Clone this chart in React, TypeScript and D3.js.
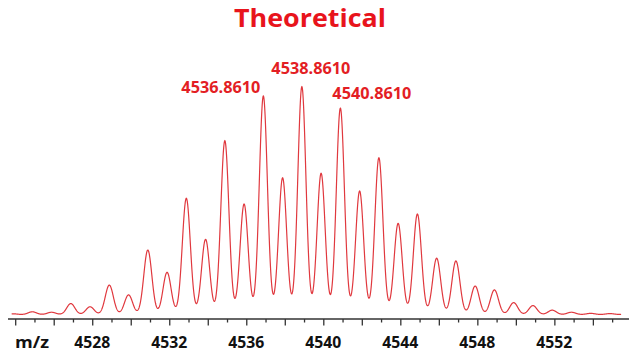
import React from "react";
import * as d3 from "d3";

// Isotope peak centres (m/z) and their relative intensities (%)
const peakMz = [
  4523.861, 4524.861, 4525.861, 4526.861, 4527.861, 4528.861, 4529.861, 4530.861,
  4531.861, 4532.861, 4533.861, 4534.861, 4535.861, 4536.861, 4537.861, 4538.861,
  4539.861, 4540.861, 4541.861, 4542.861, 4543.861, 4544.861, 4545.861, 4546.861,
  4547.861, 4548.861, 4549.861, 4550.861, 4551.861, 4552.861, 4553.861, 4554.861,
];
const peakIntensity = [
  0.3, 1.2, 1.0, 4.8, 3.4, 12.9, 8.6, 28.3,
  18.5, 51.0, 33.0, 76.3, 48.5, 95.9, 60.0, 100,
  62.0, 90.6, 54.2, 68.8, 40.0, 44.1, 24.7, 23.5,
  12.5, 10.8, 5.2, 3.9, 1.9, 1.0, 0.5, 0.4,
];

// Annotated peaks
const labelMz = [4536.861, 4538.861, 4540.861];
const labelText = ["4536.8610", "4538.8610", "4540.8610"];

// Axis ticks
const tickValues = d3.range(4524, 4556, 1);
const tickLabels = [4528, 4532, 4536, 4540, 4544, 4548, 4552];

const W = 629;
const H = 356;
const peakSigma = 0.21; // simulated peak width (m/z units)

export default function App() {
  const x = d3.scaleLinear().domain([4523.6, 4555.85]).range([8, 629]);
  const y = d3.scaleLinear().domain([0, 100]).range([314.5, 86.7]);

  const profile = (mz: number) =>
    d3.sum(peakMz, (c, i) => peakIntensity[i] * Math.exp(-0.5 * ((mz - c) / peakSigma) ** 2));

  const samples = d3.range(4523.79, 4555.45, 0.01).map((mz) => [mz, profile(mz)] as [number, number]);
  const line = d3
    .line<[number, number]>()
    .x((d) => x(d[0]))
    .y((d) => y(d[1]));

  const intensityAt = (mz: number) => peakIntensity[peakMz.indexOf(mz)];
  const labelPlacement = [
    { anchor: "end", dx: -3, dy: -3.5 },
    { anchor: "middle", dx: 9, dy: -12.7 },
    { anchor: "start", dx: -8, dy: -9 },
  ];

  const axisY = 319;
  const font = "'Open Sans', 'Liberation Sans', sans-serif";

  return (
    <svg
      width={W}
      height={H}
      style={{ position: "absolute", left: 0, top: 0, background: "#fff" }}
    >
      <text
        x={310}
        y={27}
        textAnchor="middle"
        fontFamily={font}
        fontWeight={700}
        fontSize={25.5}
        fill="#e8141c"
        textLength={152}
        lengthAdjust="spacingAndGlyphs"
      >
        Theoretical
      </text>

      <path d={line(samples) ?? ""} fill="none" stroke="#e0383e" strokeWidth={1.2} />

      {labelMz.map((mz, i) => (
        <text
          key={labelText[i]}
          x={x(mz) + labelPlacement[i].dx}
          y={y(intensityAt(mz)) + labelPlacement[i].dy}
          textAnchor={labelPlacement[i].anchor}
          fontFamily={font}
          fontWeight={700}
          fontSize={15.5}
          fill="#e31e24"
          textLength={79}
          lengthAdjust="spacingAndGlyphs"
        >
          {labelText[i]}
        </text>
      ))}

      <line x1={8} x2={629} y1={axisY} y2={axisY} stroke="#333" strokeWidth={1.3} />
      {tickValues.map((t) => (
        <line
          key={t}
          x1={x(t)}
          x2={x(t)}
          y1={axisY}
          y2={axisY + (t % 2 === 0 ? 6.5 : 3.5)}
          stroke="#333"
          strokeWidth={1.3}
        />
      ))}
      {tickLabels.map((t) => (
        <text
          key={t}
          x={x(t) - 0.5}
          y={347.7}
          textAnchor="middle"
          fontFamily={font}
          fontWeight={700}
          fontSize={15.5}
          fill="#111"
          textLength={36}
          lengthAdjust="spacingAndGlyphs"
        >
          {t}
        </text>
      ))}
      <text x={15} y={348} fontFamily={font} fontWeight={700} fontSize={15.5} fill="#111" textLength={34} lengthAdjust="spacingAndGlyphs">
        m/z
      </text>
    </svg>
  );
}
